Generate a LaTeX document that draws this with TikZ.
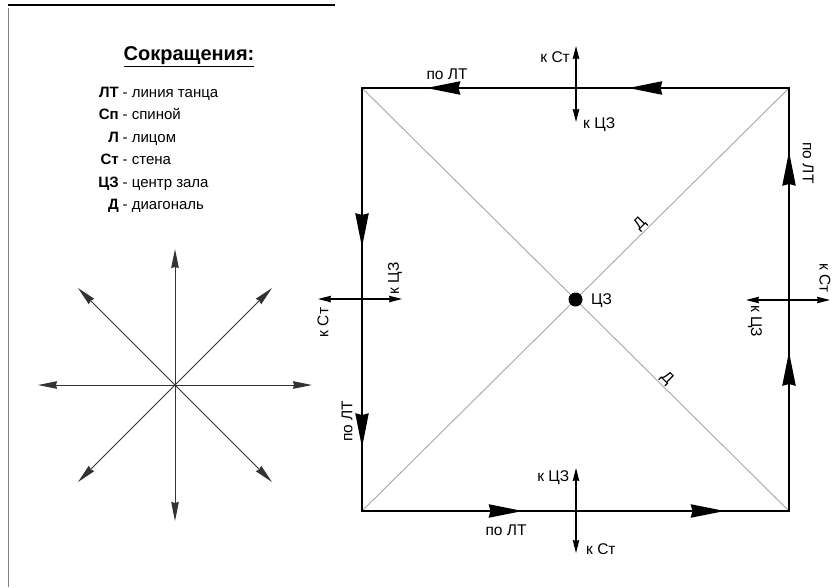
\documentclass[tikz,border=0pt]{standalone}
\usepackage{fontspec}
\setmainfont{Liberation Sans}
\usetikzlibrary{arrows.meta,decorations.markings}
\tikzset{
  lbl/.style={font=\fontsize{15.5}{17}\selectfont, inner sep=0pt},
  legabbr/.style={font=\bfseries\fontsize{15}{17}\selectfont, inner sep=0pt, anchor=base east},
  legdesc/.style={font=\fontsize{15}{17}\selectfont, inner sep=0pt, anchor=base west},
  walledge/.style={line width=2.6pt, line cap=rect,
    postaction={decorate, decoration={markings,
      mark=at position 0.377 with {\arrow{Stealth[length=34pt,width=13pt,inset=1.5pt]}},
      mark=at position 0.85 with {\arrow{Stealth[length=34pt,width=13pt,inset=1.5pt]}}}}},
  diag/.style={gray!70, line width=0.9pt},
  dlbl/.style={text=black, font=\fontsize{15.5}{17}\selectfont, inner sep=0pt},
  crossarr/.style={line width=1.1pt, {Stealth[length=13pt,width=6.5pt,inset=1pt]}-{Stealth[length=13pt,width=6.5pt,inset=1pt]}},
  stararr/.style={draw=black!80, line width=1pt, -{Stealth[length=19pt,width=7.5pt,inset=1pt]}},
}
\begin{document}
\begin{tikzpicture}[x=1pt,y=-1pt]
\useasboundingbox (0,0) rectangle (835,587);
% page frame remnants
\coordinate (ul1) at (8,5);
\coordinate (ul2) at (335,5);
\coordinate (lb1) at (8.5,8);
\coordinate (lb2) at (8.5,587);
\draw[line width=1.6pt] (ul1) -- (ul2);
\draw[gray, line width=1pt] (lb1) -- (lb2);

% legend
\node[font=\bfseries\fontsize{20}{22}\selectfont, inner sep=0pt] (title) at (189,57) {\underline{Сокращения:}};
\node[legabbr] (a1) at (119,97.5) {ЛТ};
\node[legdesc] (d1) at (119,97.5) {\hspace{3.5pt}- линия танца};
\node[legabbr] (a2) at (119,119.9) {Сп};
\node[legdesc] (d2) at (119,119.9) {\hspace{3.5pt}- спиной};
\node[legabbr] (a3) at (119,142.3) {Л};
\node[legdesc] (d3) at (119,142.3) {\hspace{3.5pt}- лицом};
\node[legabbr] (a4) at (119,164.7) {Ст};
\node[legdesc] (d4) at (119,164.7) {\hspace{3.5pt}- стена};
\node[legabbr] (a5) at (119,187.1) {ЦЗ};
\node[legdesc] (d5) at (119,187.1) {\hspace{3.5pt}- центр зала};
\node[legabbr] (a6) at (119,209.5) {Д};
\node[legdesc] (d6) at (119,209.5) {\hspace{3.5pt}- диагональ};

% star of directions
\coordinate (sc) at (175,385);
\coordinate (sN) at (175,249);
\coordinate (sS) at (175,521);
\coordinate (sW) at (38,385);
\coordinate (sE) at (312,385);
\coordinate (sNW) at (78,288);
\coordinate (sNE) at (272,288);
\coordinate (sSW) at (78,482);
\coordinate (sSE) at (272,482);
\foreach \t in {sN,sS,sW,sE,sNW,sNE,sSW,sSE}
  \draw[stararr] (sc) -- (\t);

% hall
\coordinate (tl) at (362,88);
\coordinate (tr) at (789,88);
\coordinate (bl) at (362,511);
\coordinate (br) at (789,511);
\draw[diag] (bl) -- node[pos=0.665, sloped, above=1pt, dlbl] (dg1) {Д} (tr);
\draw[diag] (tl) -- node[pos=0.70, sloped, above=1pt, dlbl] (dg2) {Д} (br);
\draw[line width=2.6pt] (tl) -- (tr) -- (br) -- (bl) -- cycle;
\draw[walledge] (tr) -- (tl);
\draw[walledge] (tl) -- (bl);
\draw[walledge] (bl) -- (br);
\draw[walledge] (br) -- (tr);

% centre
\node[circle, fill=black, inner sep=0pt, minimum size=14pt] (cz) at (575.5,299.5) {};
\node[lbl, anchor=west] (czl) at (591,300.5) {ЦЗ};

% top
\coordinate (tN) at (576,46);
\coordinate (tS) at (576,122);
\draw[crossarr] (tN) -- (tS);
\node[lbl, anchor=east] (t1) at (570,57) {к Ст};
\node[lbl, anchor=west] (t2) at (583,124.5) {к ЦЗ};
\node[lbl] (t3) at (447,74) {по ЛТ};

% bottom
\coordinate (bN) at (576,468);
\coordinate (bS) at (576,553);
\draw[crossarr] (bN) -- (bS);
\node[lbl, anchor=east] (b1) at (569.5,477.5) {к ЦЗ};
\node[lbl, anchor=west] (b2) at (586,549.5) {к Ст};
\node[lbl] (b3) at (506,530.5) {по ЛТ};

% right
\coordinate (rW) at (746,300);
\coordinate (rE) at (830,300);
\draw[crossarr] (rW) -- (rE);
\node[lbl, rotate=-90, anchor=east] (r1) at (825,293) {к Ст};
\node[lbl, rotate=-90, anchor=west] (r2) at (755,305) {к ЦЗ};
\node[lbl, rotate=-90] (r3) at (808,163) {по ЛТ};

% left
\coordinate (lW) at (318,299);
\coordinate (lE) at (402,299);
\draw[crossarr] (lW) -- (lE);
\node[lbl, rotate=90, anchor=west] (l1) at (395,294.5) {к ЦЗ};
\node[lbl, rotate=90, anchor=east] (l2) at (323,307.5) {к Ст};
\node[lbl, rotate=90] (l3) at (347,421) {по ЛТ};
\end{tikzpicture}
\end{document}
